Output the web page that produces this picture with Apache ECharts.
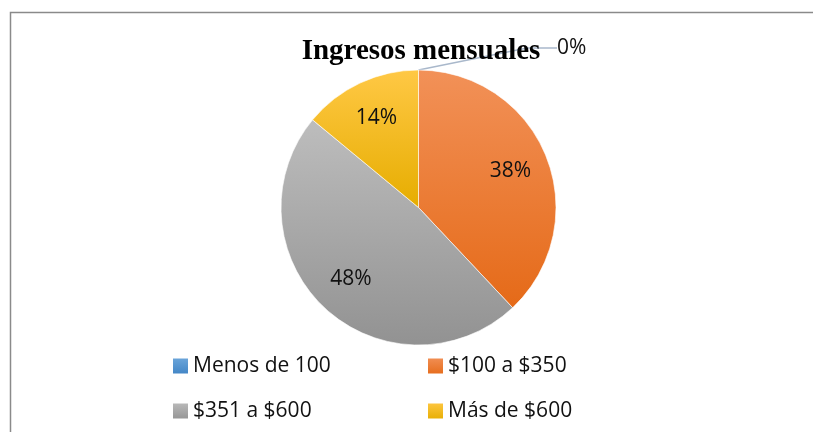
<!DOCTYPE html>
<html>
<head>
<meta charset="utf-8">
<script src="https://cdn.jsdelivr.net/npm/echarts@6/dist/echarts.min.js"></script>
<style>
  html, body { margin: 0; padding: 0; background: #fff; }
  #chart { width: 813px; height: 432px; }
</style>
</head>
<body>
<div id="chart"></div>
<script>
// datos
const categorias = ['Menos de 100', '$100 a $350', '$351 a $600', 'Más de $600']
const porcentajes = [0, 38, 48, 14]
const titulo = 'Ingresos mensuales'

// degradados tipo Excel (claro arriba, oscuro abajo)
const colores = [
  ['#6fa8dc', '#3f83c4'],
  ['#f29158', '#e56a18'],
  ['#bdbdbd', '#929292'],
  ['#ffc845', '#e6ad00']
]

function grad(c) {
  return new echarts.graphic.LinearGradient(0, 0, 0, 1, [
    { offset: 0, color: c[0] },
    { offset: 1, color: c[1] }
  ])
}

const fuente = '"Open Sans", "Noto Sans", sans-serif'

const datos = categorias.map((name, i) => ({
  name,
  value: porcentajes[i],
  itemStyle: { color: grad(colores[i]) }
}))

// posiciones de la leyenda (2 columnas)
const legendPos = [
  { left: 166, top: 349 },
  { left: 421, top: 349 },
  { left: 166, top: 394 },
  { left: 421, top: 394 }
]

const chart = echarts.init(document.getElementById('chart'), null, { renderer: 'canvas' })

chart.setOption({
  animation: false,
  title: {
    text: titulo,
    left: 416,
    textAlign: 'center',
    top: 32,
    textStyle: {
      fontFamily: '"Liberation Serif", "Times New Roman", serif',
      fontWeight: 'bold',
      fontSize: 29,
      color: '#000'
    }
  },
  legend: categorias.map((name, i) => ({
    data: [name],
    left: legendPos[i].left,
    top: legendPos[i].top,
    icon: 'rect',
    itemWidth: 17,
    itemHeight: 17,
    itemGap: 4,
    selectedMode: false,
    textStyle: {
      fontFamily: fuente,
      fontSize: 21,
      color: '#111',
      lineHeight: 24,
      padding: [0, 0, 0, -1]
    }
  })),
  graphic: [{
    type: 'rect',
    shape: { x: 10.5, y: 12.5, width: 820, height: 430 },
    style: { fill: 'none', stroke: '#8a8a8a', lineWidth: 1.5 },
    silent: true
  }],
  series: [
    {
      type: 'pie',
      center: [418.5, 207.5],
      radius: [0, 137.5],
      startAngle: 90,
      clockwise: true,
      avoidLabelOverlap: false,
      itemStyle: { borderColor: '#fff', borderWidth: 0.6 },
      label: { show: false },
      labelLine: { show: false },
      data: datos.map((d, i) => i === 0 ? Object.assign({}, d, {
        label: {
          show: true,
          position: 'outside',
          formatter: '{d}%',
          fontFamily: fuente,
          fontSize: 21,
          color: '#111'
        },
        labelLine: {
          show: true,
          length: 10,
          length2: 30,
          lineStyle: { color: '#a9b8cb', width: 1.5 }
        }
      }) : d),
      labelLayout: function (p) {
        if (p.dataIndex === 0) {
          return { x: 557, y: 48, align: 'left', verticalAlign: 'middle' }
        }
      }
    },
    {
      // serie invisible solo para las etiquetas internas
      type: 'pie',
      center: [418.5, 207.5],
      radius: [54, 137.5],
      startAngle: 90,
      clockwise: true,
      silent: true,
      itemStyle: { color: 'rgba(0,0,0,0)' },
      label: {
        show: true,
        position: 'inside',
        formatter: p => p.value > 0 ? p.value + '%' : '',
        fontFamily: fuente,
        fontSize: 21,
        color: '#111'
      },
      labelLine: { show: false },
      data: categorias.map((name, i) => ({ name: name + ' ', value: porcentajes[i] }))
    }
  ]
})
</script>
</body>
</html>
